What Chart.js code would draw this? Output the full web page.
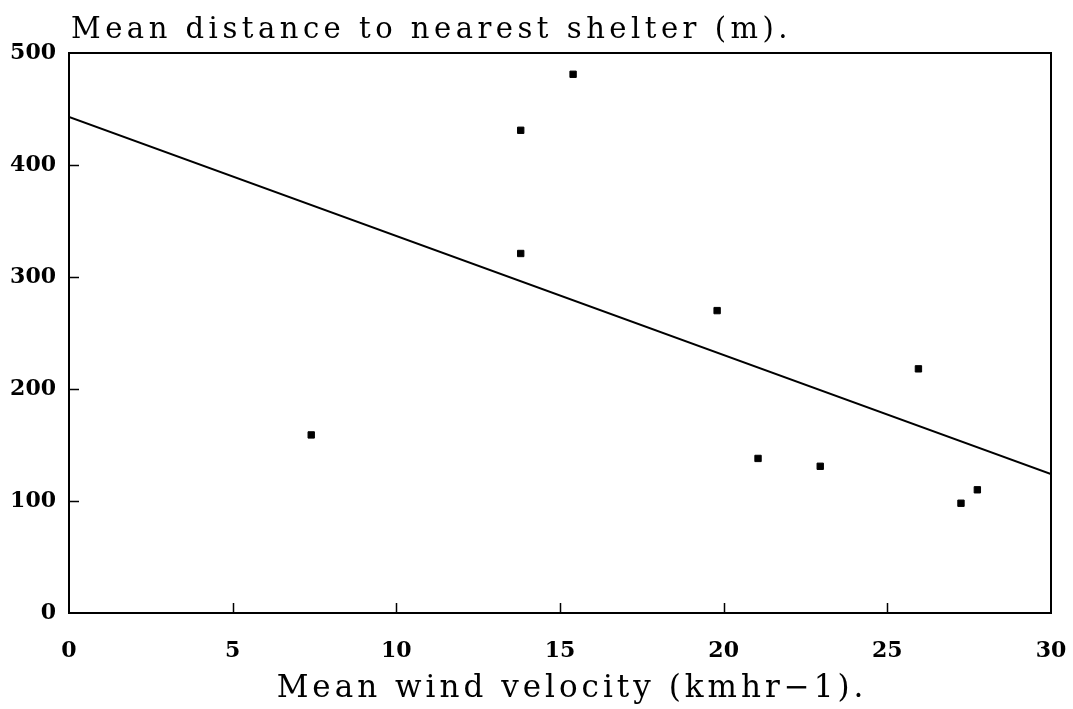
<!DOCTYPE html>
<html>
<head>
<meta charset="utf-8">
<script src="https://cdn.jsdelivr.net/npm/chart.js@4/dist/chart.umd.min.js"></script>
<style>
html,body{margin:0;padding:0;background:#fff;}
#wrap{width:1073px;height:709px;position:relative;}
</style>
</head>
<body>
<div id="wrap"><canvas id="c" width="1073" height="709"></canvas></div>
<script>
// Data
const windVelocity = [7.4, 13.8, 13.8, 15.4, 19.8, 21.05, 22.95, 25.95, 27.25, 27.75];
const shelterDistance = [159, 431, 321, 481, 270, 138, 131, 218, 98, 110];
const fitX = [0, 30];
const fitY = [443, 124];
const xTicks = [0, 5, 10, 15, 20, 25, 30];
const yTicks = [0, 100, 200, 300, 400, 500];
const chartTitle = 'Mean distance to nearest shelter (m).';
const xTitle = 'Mean wind velocity (kmhr\u22121).';

const serif = '"DejaVu Serif", "Liberation Serif", serif';

const framePlugin = {
  id: 'frame',
  afterDraw(chart) {
    const {ctx, chartArea: a, scales} = chart;
    ctx.save();
    ctx.strokeStyle = '#000';
    ctx.lineWidth = 2;
    ctx.strokeRect(a.left, a.top, a.right - a.left, a.bottom - a.top);
    ctx.lineWidth = 1.5;
    ctx.beginPath();
    xTicks.forEach(v => {
      if (v === xTicks[0] || v === xTicks[xTicks.length - 1]) return;
      const px = Math.round(scales.x.getPixelForValue(v)) + 0.5;
      ctx.moveTo(px, a.bottom);
      ctx.lineTo(px, a.bottom - 10);
    });
    yTicks.forEach(v => {
      if (v === yTicks[0] || v === yTicks[yTicks.length - 1]) return;
      const py = Math.round(scales.y.getPixelForValue(v)) + 0.5;
      ctx.moveTo(a.left, py);
      ctx.lineTo(a.left + 10, py);
    });
    ctx.stroke();
    ctx.fillStyle = '#000';
    ctx.font = '29px ' + serif;
    ctx.letterSpacing = '4.5px';
    ctx.textAlign = 'left';
    ctx.textBaseline = 'alphabetic';
    ctx.fillText(chartTitle, a.left + 2, 38);
    ctx.font = '31px ' + serif;
    ctx.letterSpacing = '4px';
    ctx.textAlign = 'center';
    ctx.fillText(xTitle, (a.left + a.right) / 2 + 12, 697);
    ctx.restore();
  }
};

new Chart(document.getElementById('c'), {
  type: 'scatter',
  data: {
    datasets: [
      {
        label: 'Observations',
        data: windVelocity.map((x, i) => ({x: x, y: shelterDistance[i]})),
        pointStyle: 'rect',
        pointRadius: 4.5,
        pointBackgroundColor: '#000',
        pointBorderColor: '#000',
        pointBorderWidth: 1,
        showLine: false
      },
      {
        label: 'Regression',
        data: fitX.map((x, i) => ({x: x, y: fitY[i]})),
        showLine: true,
        borderColor: '#000',
        borderWidth: 2,
        pointRadius: 0,
        fill: false
      }
    ]
  },
  options: {
    responsive: false,
    animation: false,
    events: [],
    layout: {padding: {top: 53, right: 22, left: 0, bottom: 0}},
    plugins: {legend: {display: false}, tooltip: {enabled: false}, title: {display: false}},
    scales: {
      x: {
        type: 'linear', min: 0, max: 30,
        afterBuildTicks: s => { s.ticks = xTicks.map(v => ({value: v})); },
        afterFit: s => { s.height = 96; s.paddingRight = 0; s.paddingLeft = 0; },
        grid: {display: true, drawOnChartArea: false, drawTicks: false},
        border: {display: false},
        ticks: {color: '#000', padding: 25, maxRotation: 0, font: {family: serif, size: 22, weight: 'bold'}}
      },
      y: {
        type: 'linear', min: 0, max: 500,
        afterBuildTicks: s => { s.ticks = yTicks.map(v => ({value: v})); },
        afterFit: s => { s.width = 69; s.paddingTop = 0; s.paddingBottom = 0; },
        grid: {display: true, drawOnChartArea: false, drawTicks: false},
        border: {display: false},
        ticks: {color: '#000', padding: 13, font: {family: serif, size: 22, weight: 'bold'}}
      }
    }
  },
  plugins: [framePlugin]
});
</script>
</body>
</html>
